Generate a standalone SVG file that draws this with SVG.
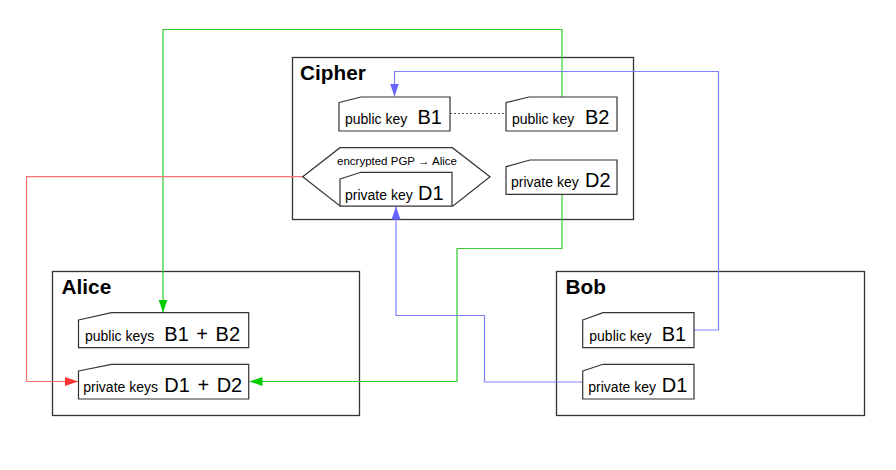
<svg xmlns="http://www.w3.org/2000/svg" width="896" height="470" viewBox="0 0 896 470">
<defs>
<style>
.box{fill:#fff;stroke:#333;stroke-width:1.3}
.node{fill:#fff;stroke:#333;stroke-width:1.2}
.title{font-family:"Liberation Sans",Arial,sans-serif;font-weight:bold;font-size:20.8px;fill:#000}
.lbl{font-family:"Liberation Sans",Arial,sans-serif;font-size:14px;fill:#000}
.big{font-family:"Liberation Sans",Arial,sans-serif;font-size:20px;fill:#000}
.wide{word-spacing:2px}
.small{font-family:"Liberation Sans",Arial,sans-serif;font-size:11.5px;fill:#000}
.c{fill:none;stroke-width:1.2}
.g{stroke:#33cc33}
.r{stroke:#ff7070}
.b{stroke:#8080ff}
</style>
<marker id="ag" markerUnits="userSpaceOnUse" markerWidth="14" markerHeight="10" refX="13" refY="4.5" orient="auto"><polygon points="0,0 13,4.5 0,9" fill="#00cc00"/></marker>
<marker id="ar" markerUnits="userSpaceOnUse" markerWidth="14" markerHeight="10" refX="13" refY="4.5" orient="auto"><polygon points="0,0 13,4.5 0,9" fill="#ff3333"/></marker>
<marker id="ab" markerUnits="userSpaceOnUse" markerWidth="14" markerHeight="10" refX="13" refY="4.5" orient="auto"><polygon points="0,0 13,4.5 0,9" fill="#6666ff"/></marker>
</defs>
<rect width="896" height="470" fill="#fff"/>

<g id="cipher">
<rect class="box" x="292.5" y="57.5" width="341" height="162"/>
<text class="title" x="300" y="80">Cipher</text>
</g>
<g id="alice">
<rect class="box" x="52.5" y="271.5" width="307" height="144"/>
<text class="title" x="61.5" y="293.5">Alice</text>
</g>
<g id="bob">
<rect class="box" x="556.5" y="271.5" width="308" height="144"/>
<text class="title" x="565.5" y="293.5">Bob</text>
</g>

<g id="connectors">
<path class="c g" d="M562,97 V29.5 H163 V312.5" marker-end="url(#ag)"/>
<path class="c g" d="M562,194.5 V248.5 H457 V381.5 H249.5" marker-end="url(#ag)"/>
<path class="c r" d="M302.7,176.7 H26.5 V381.5 H78" marker-end="url(#ar)"/>
<path class="c b" d="M694,330 H718.5 V71.5 H394.5 V96.5" marker-end="url(#ab)"/>
<path class="c b" d="M583,382 H484.5 V315.5 H396 V206.5" marker-end="url(#ab)"/>
<path d="M450,113.5 H506" fill="none" stroke="#555" stroke-width="1.2" stroke-dasharray="2,2"/>
</g>

<g id="cipher-pub-b1">
<path class="node" d="M339,102.5 L361,97 H450 V131 H339 Z"/>
<text class="lbl" x="345" y="124">public key</text>
<text class="big" x="417.5" y="124">B1</text>
</g>
<g id="cipher-pub-b2">
<path class="node" d="M506,102.5 L529,97 H617 V131 H506 Z"/>
<text class="lbl" x="512" y="124">public key</text>
<text class="big" x="585" y="124">B2</text>
</g>
<g id="cipher-pgp">
<polygon class="node" points="302.7,176.7 340,147.7 452.3,147.7 490,176.7 453,206 340,206"/>
<text class="small" x="397" y="164.5" text-anchor="middle">encrypted PGP → Alice</text>
</g>
<g id="cipher-priv-d1">
<path class="node" d="M340,179 L361,172.3 H452 V206 H340 Z"/>
<text class="lbl" x="345" y="200">private key</text>
<text class="big" x="418" y="200">D1</text>
</g>
<g id="cipher-priv-d2">
<path class="node" d="M506,166.7 L530,160 H617 V194.3 H506 Z"/>
<text class="lbl" x="511" y="187">private key</text>
<text class="big" x="585" y="187">D2</text>
</g>

<g id="alice-pub">
<path class="node" d="M78.5,320 L111.5,312.7 H248.7 V347.7 H78.5 Z"/>
<text class="lbl" x="85" y="341">public keys</text>
<text class="big wide" x="164.3" y="341">B1 + B2</text>
</g>
<g id="alice-priv">
<path class="node" d="M78.5,371 L111.5,364.3 H248.7 V399 H78.5 Z"/>
<text class="lbl" x="83.3" y="392">private keys</text>
<text class="big wide" x="164.3" y="392">D1 + D2</text>
</g>

<g id="bob-pub">
<path class="node" d="M582.7,320 L603,312.7 H694 V347.7 H582.7 Z"/>
<text class="lbl" x="589.3" y="341">public key</text>
<text class="big" x="661.7" y="341">B1</text>
</g>
<g id="bob-priv">
<path class="node" d="M582.7,371 L603,364.3 H694 V399 H582.7 Z"/>
<text class="lbl" x="588.3" y="392">private key</text>
<text class="big" x="661.7" y="392">D1</text>
</g>
</svg>
